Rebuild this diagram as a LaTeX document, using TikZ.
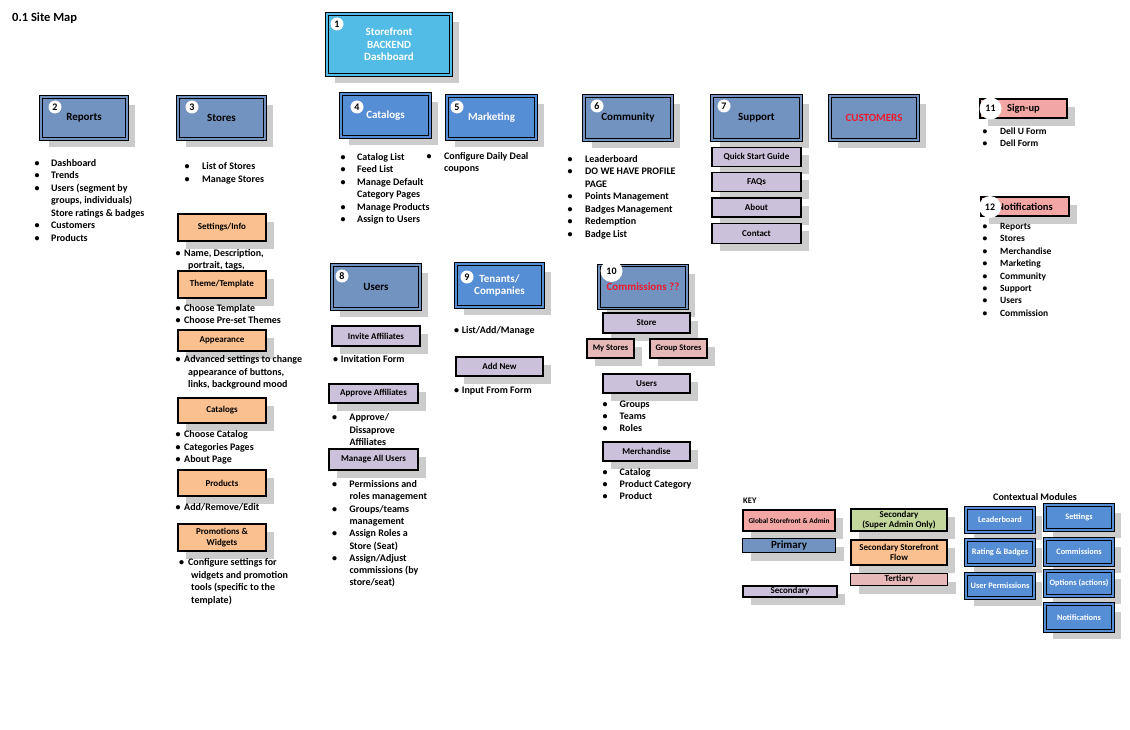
\documentclass[tikz,border=0pt]{standalone}
\usepackage{fontspec}
\setmainfont{Carlito}
\usetikzlibrary{shadows, positioning}
\definecolor{mapcyan}{HTML}{52BCE6}
\definecolor{mapsteel}{HTML}{7293C0}
\definecolor{mapblue}{HTML}{558ED5}
\definecolor{mappeach}{HTML}{FAC08F}
\definecolor{maplilac}{HTML}{CCC1DA}
\definecolor{mappink}{HTML}{F2A7A5}
\definecolor{maprose}{HTML}{E6B9B8}
\definecolor{mapgreen}{HTML}{C3D69B}
\definecolor{mapshadow}{HTML}{CCCCCC}
\definecolor{mapred}{HTML}{F0192D}

\newcommand{\blist}[2]{\begin{tabular}[t]{@{}p{#1}@{}l@{}}#2\end{tabular}}

\tikzset{
  boxshadow/.style={drop shadow={shadow xshift=8pt, shadow yshift=-8pt, fill=mapshadow, opacity=1}},
  headbox/.style={rectangle, draw=black, line width=1pt, double distance=1.2pt, align=center,
    inner sep=1pt, boxshadow, font=\bfseries\fontsize{11}{12.7}\selectfont},
  steelbox/.style={headbox, fill=mapsteel, double=mapsteel},
  bluebox/.style={headbox, fill=mapblue, double=mapblue, text=white},
  cyanbox/.style={headbox, fill=mapcyan, double=mapcyan, text=white},
  modbox/.style={bluebox, font=\bfseries\fontsize{8.3}{9.5}\selectfont},
  subbox/.style={rectangle, draw=black, line width=1.9pt, align=center, inner sep=1pt,
    boxshadow, font=\bfseries\fontsize{9}{10.5}\selectfont},
  lilacbox/.style={subbox, fill=maplilac},
  peachbox/.style={subbox, fill=mappeach},
  rosebox/.style={subbox, fill=maprose},
  greenbox/.style={subbox, fill=mapgreen},
  pinkbox/.style={subbox, fill=mappink, font=\bfseries\fontsize{10.5}{12}\selectfont},
  numdot/.style={circle, fill=white, inner sep=0pt, minimum size=13pt,
    font=\bfseries\fontsize{10}{10}\selectfont},
  bignum/.style={numdot, minimum size=22pt},
  listtext/.style={anchor=base west, inner sep=0pt, font=\bfseries\fontsize{10}{12.5}\selectfont},
}

\begin{document}
\begin{tikzpicture}[x=1pt, y=-1pt]
  \useasboundingbox (0,0) rectangle (1130,730);

  \node[anchor=west, inner sep=0pt, font=\bfseries\fontsize{12.5}{14}\selectfont] (title) at (12,18) {0.1 Site Map};

  % top level
  \node[cyanbox, minimum width=124pt, minimum height=61pt] (storefront) at (389,44.5)
    {Storefront\\BACKEND\\Dashboard};
  \node[steelbox, minimum width=86pt, minimum height=42pt] (reports) at (84,118) {Reports};
  \node[steelbox, minimum width=87pt, minimum height=42pt] (stores) at (221.5,118) {Stores};
  \node[bluebox, minimum width=89pt, minimum height=43pt] (catalogs) at (385.5,115.5) {Catalogs};
  \node[bluebox, minimum width=89pt, minimum height=43pt] (marketing) at (491.5,117.5) {Marketing};
  \node[steelbox, minimum width=88pt, minimum height=44pt] (community) at (628,118) {Community};
  \node[steelbox, minimum width=89pt, minimum height=44pt] (support) at (756.5,118) {Support};
  \node[steelbox, minimum width=88pt, minimum height=44pt, text=mapred] (customers) at (874,118) {CUSTOMERS};
  \node[steelbox, minimum width=88pt, minimum height=44pt] (users) at (376,287) {Users};
  \node[bluebox, minimum width=87pt, minimum height=43pt] (tenants) at (499.5,285.5) {Tenants/\\Companies};
  \node[steelbox, minimum width=88pt, minimum height=43pt, text=mapred] (commissions) at (643,287) {Commissions ??};
  \node[pinkbox, minimum width=87pt, minimum height=19pt] (signup) at (1023.5,108.5) {Sign-up};
  \node[pinkbox, minimum width=88pt, minimum height=19pt] (notifs) at (1025,206.5) {Notifications};

  % support pages
  \node[lilacbox, minimum width=89pt, minimum height=19pt] (quickstart) at (756.5,157) {Quick Start Guide};
  \node[lilacbox, minimum width=89pt, minimum height=19pt] (faqs) at (756.5,182) {FAQs};
  \node[lilacbox, minimum width=89pt, minimum height=19pt] (about) at (756.5,207.5) {About};
  \node[lilacbox, minimum width=89pt, minimum height=20pt] (contact) at (756.5,233.5) {Contact};

  % store pages
  \node[peachbox, minimum width=88pt, minimum height=27pt] (settings) at (222,227.5) {Settings/Info};
  \node[peachbox, minimum width=88pt, minimum height=27pt] (theme) at (222,284.5) {Theme/Template};
  \node[peachbox, minimum width=88pt, minimum height=21pt] (appearance) at (222,340.5) {Appearance};
  \node[peachbox, minimum width=88pt, minimum height=25pt] (storecat) at (222,410.5) {Catalogs};
  \node[peachbox, minimum width=88pt, minimum height=26pt] (products) at (222,483) {Products};
  \node[peachbox, minimum width=88pt, minimum height=27pt] (promos) at (222,537.5) {Promotions \&\\Widgets};

  % user pages
  \node[lilacbox, minimum width=88pt, minimum height=20pt] (invite) at (376,336) {Invite Affiliates};
  \node[lilacbox, minimum width=89pt, minimum height=19pt] (approve) at (373.5,393.5) {Approve Affiliates};
  \node[lilacbox, minimum width=89pt, minimum height=21pt] (manageall) at (373.5,459.5) {Manage All Users};
  \node[lilacbox, minimum width=87pt, minimum height=19pt] (addnew) at (499.5,366.5) {Add New};

  % commission pages
  \node[lilacbox, minimum width=87pt, minimum height=20pt] (commstore) at (646.5,323) {Store};
  \node[rosebox, minimum width=47pt, minimum height=19pt, font=\bfseries\fontsize{8.5}{10}\selectfont] (mystores) at (610.5,348.5) {My Stores};
  \node[rosebox, minimum width=57pt, minimum height=19pt, font=\bfseries\fontsize{8.5}{10}\selectfont] (groupstores) at (678.5,348.5) {Group Stores};
  \node[lilacbox, minimum width=87pt, minimum height=19pt] (commusers) at (646.5,383.5) {Users};
  \node[lilacbox, minimum width=87pt, minimum height=19pt] (commmerch) at (646.5,451.5) {Merchandise};

  % numbers
  \node[numdot] (n1) at (337,24) {1};
  \node[numdot] (n2) at (55,107) {2};
  \node[numdot] (n3) at (192,107) {3};
  \node[numdot] (n4) at (357,107) {4};
  \node[numdot] (n5) at (457,107) {5};
  \node[numdot] (n6) at (597,106) {6};
  \node[numdot] (n7) at (724,106) {7};
  \node[numdot] (n8) at (342,276) {8};
  \node[numdot] (n9) at (467,277) {9};
  \node[bignum] (n10) at (611.5,271) {10};
  \node[bignum] (n11) at (990.5,108.5) {11};
  \node[bignum] (n12) at (990,207) {12};

  % lists
  \node[listtext] (lReports) at (34.5,166.5) {\blist{16.5pt}{\textbullet & Dashboard\\
    \textbullet & Trends\\ \textbullet & Users (segment by\\ & groups, individuals)\\
    & Store ratings \& badges\\ \textbullet & Customers\\ \textbullet & Products}};
  \node[listtext, font=\bfseries\fontsize{10}{13}\selectfont] (lStores) at (184.5,169.5)
    {\blist{17.5pt}{\textbullet & List of Stores\\ \textbullet & Manage Stores}};
  \node[listtext] (lCatalogs) at (340.5,160.5) {\blist{16.5pt}{\textbullet & Catalog List\\
    \textbullet & Feed List\\ \textbullet & Manage Default\\ & Category Pages\\
    \textbullet & Manage Products\\ \textbullet & Assign to Users}};
  \node[listtext] (lMarketing) at (426.5,159.5)
    {\blist{17.5pt}{\textbullet & Configure Daily Deal\\ & coupons}};
  \node[listtext] (lCommunity) at (567.5,162.5) {\blist{17.5pt}{\textbullet & Leaderboard\\
    \textbullet & DO WE HAVE PROFILE\\ & PAGE\\ \textbullet & Points Management\\
    \textbullet & Badges Management\\ \textbullet & Redemption\\ \textbullet & Badge List}};
  \node[listtext, font=\bfseries\fontsize{9.5}{12}\selectfont] (lSignup) at (982.5,134.5)
    {\blist{17.5pt}{\textbullet & Dell U Form\\ \textbullet & Dell Form}};
  \node[listtext, font=\bfseries\fontsize{9.5}{12.4}\selectfont] (lNotifs) at (982.5,229.5)
    {\blist{17.5pt}{\textbullet & Reports\\ \textbullet & Stores\\ \textbullet & Merchandise\\
    \textbullet & Marketing\\ \textbullet & Community\\ \textbullet & Support\\
    \textbullet & Users\\ \textbullet & Commission}};
  \node[listtext] (lSettings) at (175.5,256.5)
    {\blist{8.5pt}{\textbullet & Name, Description,\\ & \hspace{4pt}portrait, tags,}};
  \node[listtext] (lTheme) at (175.5,311.5)
    {\blist{8.5pt}{\textbullet & Choose Template\\ \textbullet & Choose Pre-set Themes}};
  \node[listtext] (lAppearance) at (175.5,362.5)
    {\blist{8.5pt}{\textbullet & Advanced settings to change\\
    & \hspace{4pt}appearance of buttons,\\ & \hspace{4pt}links, background mood}};
  \node[listtext] (lStoreCat) at (175.5,437.5) {\blist{8.5pt}{\textbullet & Choose Catalog\\
    \textbullet & Categories Pages\\ \textbullet & About Page}};
  \node[listtext] (lProducts) at (175.5,510.5) {\blist{8.5pt}{\textbullet & Add/Remove/Edit}};
  \node[listtext] (lPromos) at (179,565.5) {\blist{9pt}{\textbullet & Configure settings for\\
    & \hspace{3pt}widgets and promotion\\ & \hspace{3pt}tools (specific to the\\
    & \hspace{3pt}template)}};
  \node[listtext] (lInvite) at (333,362.5) {\blist{7.7pt}{\textbullet & Invitation Form}};
  \node[listtext] (lApprove) at (332,420.5)
    {\blist{17.3pt}{\textbullet & Approve/\\ & Dissaprove\\ & Affiliates}};
  \node[listtext, font=\bfseries\fontsize{10}{12.3}\selectfont] (lManage) at (332,487.5)
    {\blist{17.3pt}{\textbullet & Permissions and\\ & roles management\\
    \textbullet & Groups/teams\\ & management\\ \textbullet & Assign Roles a\\
    & Store (Seat)\\ \textbullet & Assign/Adjust\\ & commissions (by\\ & store/seat)}};
  \node[listtext] (lTenants) at (454,333.5) {\blist{7.7pt}{\textbullet & List/Add/Manage}};
  \node[listtext] (lAddNew) at (454,393.5) {\blist{7.7pt}{\textbullet & Input From Form}};
  \node[listtext, font=\bfseries\fontsize{10}{12}\selectfont] (lCommUsers) at (602.5,407.5)
    {\blist{17pt}{\textbullet & Groups\\ \textbullet & Teams\\ \textbullet & Roles}};
  \node[listtext, font=\bfseries\fontsize{10}{12}\selectfont] (lCommMerch) at (602.5,475.5)
    {\blist{17pt}{\textbullet & Catalog\\ \textbullet & Product Category\\ \textbullet & Product}};

  % key
  \node[anchor=west, inner sep=0pt, font=\bfseries\fontsize{8.5}{9}\selectfont] (keytitle) at (743,501) {KEY};
  \node[subbox, fill=mappink, minimum width=92pt, minimum height=21pt,
    font=\bfseries\fontsize{7.3}{8}\selectfont] (kglobal) at (789,520.5) {Global Storefront \& Admin};
  \node[subbox, fill=mapsteel, line width=1.2pt, minimum width=93pt, minimum height=14pt, inner sep=0pt,
    font=\bfseries\fontsize{11}{12}\selectfont] (kprimary) at (789,545.5) {Primary};
  \node[lilacbox, minimum width=94pt, minimum height=11pt, inner sep=0pt] (ksecondary) at (790,591.5) {Secondary};
  \node[greenbox, minimum width=96pt, minimum height=22pt, inner sep=0pt] (ksuper) at (899,520)
    {Secondary\\(Super Admin Only)};
  \node[peachbox, minimum width=96pt, minimum height=25pt, inner sep=0pt] (kflow) at (899,552.5)
    {Secondary Storefront\\Flow};
  \node[rosebox, line width=1pt, minimum width=97pt, minimum height=12pt, inner sep=0pt] (ktertiary) at (899,579.5) {Tertiary};

  \node[font=\bfseries\fontsize{10}{11}\selectfont] (ctxtitle) at (1035,497) {Contextual Modules};
  \node[modbox, minimum width=68pt, minimum height=24pt] (mleader) at (1000,520) {Leaderboard};
  \node[modbox, minimum width=68pt, minimum height=25pt] (mrating) at (1000,552.5) {Rating \& Badges};
  \node[modbox, minimum width=68pt, minimum height=24pt] (mperms) at (1000,586) {User Permissions};
  \node[modbox, minimum width=68pt, minimum height=25pt] (msettings) at (1079,517.5) {Settings};
  \node[modbox, minimum width=68pt, minimum height=26pt] (mcomm) at (1079,552) {Commissions};
  \node[modbox, minimum width=68pt, minimum height=25pt] (moptions) at (1079,583.5) {Options (actions)};
  \node[modbox, minimum width=68pt, minimum height=27pt] (mnotifs) at (1079,617.5) {Notifications};
\end{tikzpicture}
\end{document}
